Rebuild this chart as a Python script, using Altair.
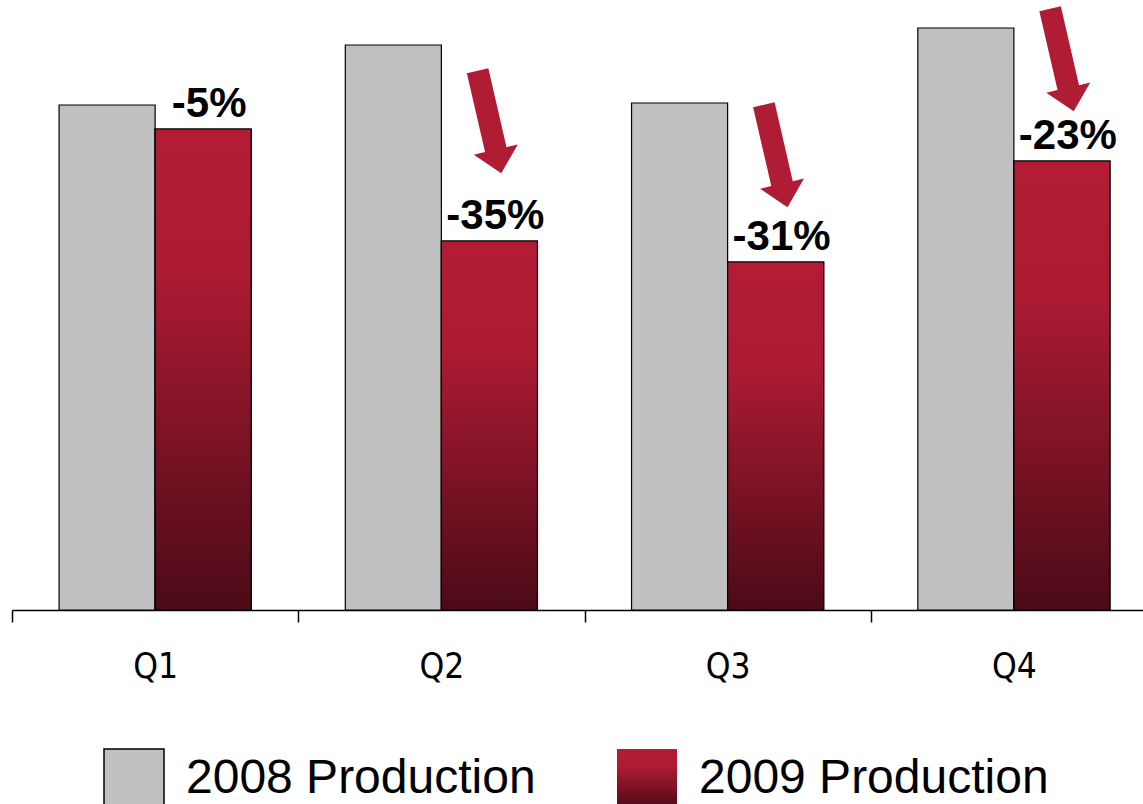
import altair as alt
import pandas as pd

# ---- data -------------------------------------------------------------------
quarters = ["Q1", "Q2", "Q3", "Q4"]
series_names = ["2008 Production", "2009 Production"]
prod_2008 = [505, 565, 507, 582]
prod_2009 = [481, 369, 348, 449]
change_labels = ["-5%", "-35%", "-31%", "-23%"]
arrow_quarters = ["Q2", "Q3", "Q4"]
arrow_level = [488, 454, 550]

# ---- styles ------------------------------------------------------------------
GRAY = "#c0c0c0"
RED = "#b01c33"
STOPS = [(0.0, "#b21c35"), (0.3, "#ac1b32"), (1.0, "#4b0a17")]
bar_gradient = alt.Gradient(
    gradient="linear", x1=0, y1=0, x2=0, y2=1,
    stops=[alt.GradientStop(offset=o, color=c) for o, c in STOPS],
)
GRAD_EXPR = ("{gradient: 'linear', x1: 0, y1: 0, x2: 0, y2: 1, stops: ["
             + ", ".join("{offset: %s, color: '%s'}" % (o, c) for o, c in STOPS) + "]}")
ARROW = "M -0.21 -1 L 0.21 -1 L 0.21 0.54 L 0.43 0.54 L 0 1 L -0.43 0.54 L -0.21 0.54 Z"
NARROW = "'Liberation Sans Narrow', 'Arial Narrow', 'DejaVu Sans Condensed', 'Liberation Sans', sans-serif"

rows = []
for q, a, b in zip(quarters, prod_2008, prod_2009):
    rows.append({"quarter": q, "series": series_names[0], "value": a})
    rows.append({"quarter": q, "series": series_names[1], "value": b})
bars_df = pd.DataFrame(rows)
lab_df = pd.DataFrame({"quarter": quarters, "series": series_names[1],
                       "value": prod_2009, "label": change_labels})
arr_df = pd.DataFrame({"quarter": arrow_quarters, "series": series_names[1],
                       "level": arrow_level})

x_enc = alt.X(
    "quarter:N", sort=quarters,
    scale=alt.Scale(domain=quarters, range=[0, 1145], paddingInner=0, paddingOuter=0),
    axis=alt.Axis(title=None, tickBand="extent", labelAngle=0),
)
xo_enc = alt.XOffset("series:N",
                     scale=alt.Scale(domain=series_names, paddingInner=0, paddingOuter=0.49))
y_scale = alt.Scale(domain=[0, 610], nice=False, zero=True)

LEG = dict(
    title=None, orient="none", legendY=748, direction="horizontal",
    symbolType="square", symbolSize=3600, symbolStrokeColor="black",
    symbolStrokeWidth=1.5, symbolOpacity=1, labelFont="Liberation Sans",
    labelFontSize=48, labelColor="black", labelOffset=21, labelLimit=600, padding=0,
)
legend_2008 = alt.Legend(legendX=91, values=[series_names[0]], **LEG)
legend_2009 = alt.Legend(legendX=604, symbolFillColor=alt.ExprRef(expr=GRAD_EXPR), **LEG)

bars = alt.Chart(bars_df).mark_bar(stroke="black", strokeWidth=1.2, opacity=1).encode(
    x=x_enc, xOffset=xo_enc,
    y=alt.Y("value:Q", scale=y_scale, axis=None),
    color=alt.Color("series:N", scale=alt.Scale(domain=series_names, range=[GRAY, RED]),
                    legend=legend_2008),
)
overlay = alt.Chart(lab_df).mark_bar(color=bar_gradient, stroke="black",
                                     strokeWidth=1.2).encode(
    x=x_enc, xOffset=xo_enc, y=alt.Y("value:Q", scale=y_scale, axis=None),
    opacity=alt.Opacity("series:N",
                        scale=alt.Scale(type="ordinal", domain=[series_names[1]], range=[1]),
                        legend=legend_2009),
)
labels = alt.Chart(lab_df).mark_text(
    font="Liberation Sans", fontSize=42, fontWeight="bold", color="black",
    baseline="alphabetic", dy=-12, dx=6,
).encode(x=x_enc, xOffset=xo_enc, y=alt.Y("value:Q", scale=y_scale, axis=None),
         text="label:N")
arrows = alt.Chart(arr_df).mark_point(
    shape=ARROW, filled=True, size=11025, angle=347, color=RED, opacity=1,
    strokeWidth=0, xOffset=-7,
).encode(x=x_enc, xOffset=xo_enc, y=alt.Y("level:Q", scale=y_scale, axis=None))

chart = alt.layer(bars, overlay, labels, arrows).resolve_legend(
    color="independent", opacity="independent"
).properties(
    width=1131, height=610, autosize="none",
    padding={"left": 12, "top": 0, "right": 0, "bottom": 194},
).configure_view(stroke=None).configure_axis(
    domainColor="black", domainWidth=1.5, tickColor="black", tickWidth=1.5,
    tickSize=12, labelFont=NARROW, labelFontSize=35,
    labelColor="black", labelPadding=27, grid=False,
)

chart.save("out.html", embed_options={"renderer": "svg", "actions": False})
